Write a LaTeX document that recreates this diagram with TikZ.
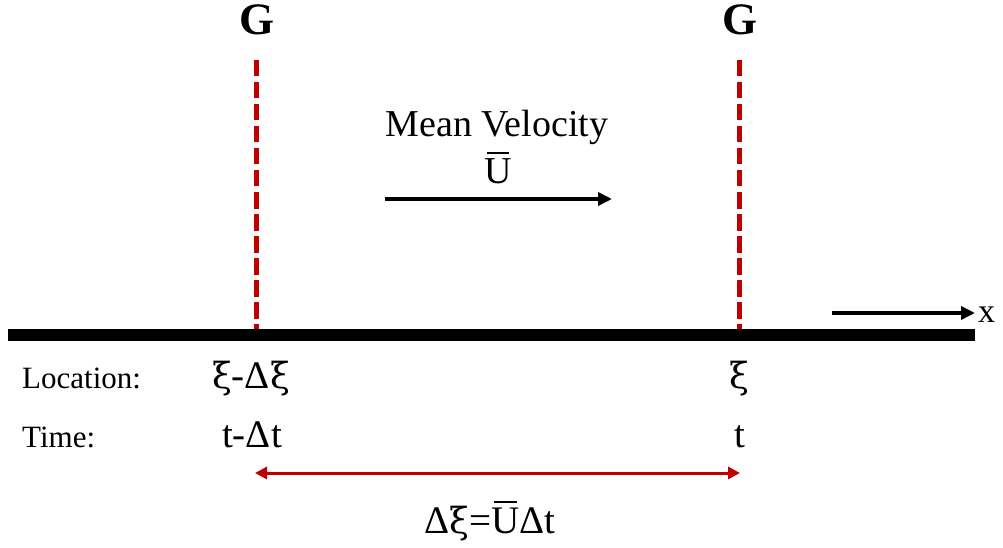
\documentclass[tikz,border=0pt]{standalone}
\usepackage{fontspec}
\setmainfont{Liberation Serif}
\newfontfamily\grk{DejaVu Serif}
\usetikzlibrary{arrows.meta, positioning}
\definecolor{rojo}{HTML}{C00000}
\newcommand{\ubar}{\setbox0\hbox{U}\rlap{\kern0.1\wd0\rule[1.18\ht0]{0.8\wd0}{0.05em}}\box0}
\newcommand{\xii}{{\grk\fontsize{36}{40}\selectfont ξ}}
\tikzset{
  txt/.style={inner sep=0pt, anchor=base, font=\fontsize{39}{44}\selectfont},
  rot/.style={txt, anchor=base west, font=\fontsize{31}{36}\selectfont},
  gee/.style={txt, font=\fontsize{45}{50}\selectfont\bfseries},
  suelo/.style={line width=12pt, black},
  marca/.style={line width=5pt, rojo, dash pattern=on 16.5pt off 5.5pt},
  flecha/.style={-{Triangle[length=14pt, width=13pt]}, line width=4.5pt},
  flechar/.style={{Triangle[length=12pt, width=12pt]}-{Triangle[length=12pt, width=12pt]}, line width=3pt, rojo},
}
\begin{document}
\begin{tikzpicture}[x=1pt, y=-1pt]
  \useasboundingbox (0,0) rectangle (1003,548);
  % ground line and x direction
  \coordinate (s0) at (8,335);
  \coordinate (s1) at (975,335);
  \draw[suelo] (s0) -- (s1);
  \coordinate (x0) at (832,313);
  \node[txt, anchor=base west, font=\fontsize{34}{38}\selectfont] (x) at (978,322) {x};
  \draw[flecha] (x0) -- ([xshift=-3pt]x.west |- x0);
  % the two G planes
  \foreach \n/\xx in {a/256.5,b/739.5} {
    \node[gee] (g\n) at (\xx,35) {G};
    \coordinate (g\n top) at (\xx,60);
    \coordinate (g\n bot) at (\xx,329);
    \draw[marca] (g\n top) -- (g\n bot);
  }
  % mean velocity
  \node[txt, font=\fontsize{38}{44}\selectfont] (mv) at (497,137) {Mean Velocity};
  \node[txt, font=\fontsize{38}{44}\selectfont] (u) at (498,183) {\ubar};
  \coordinate (v0) at (385,199);
  \coordinate (v1) at (612,199);
  \draw[flecha] (v0) -- (v1);
  % labels under the line
  \node[rot] (loc) at (22,388) {Location:};
  \node[rot] (tim) at (22,447) {Time:};
  \node[txt] (la) at (251,388) {\xii-Δ\xii};
  \node[txt] (ta) at (252,447) {t-Δt};
  \node[txt] (lb) at (739.5,388) {\xii};
  \node[txt] (tb) at (739.5,447) {t};
  % span between the planes
  \coordinate (d0) at (255,473);
  \coordinate (d1) at (740,473);
  \draw[flechar] (d0) -- (d1);
  \node[txt] (dx) at (490,533) {Δ\xii=\ubar Δt};
\end{tikzpicture}
\end{document}
